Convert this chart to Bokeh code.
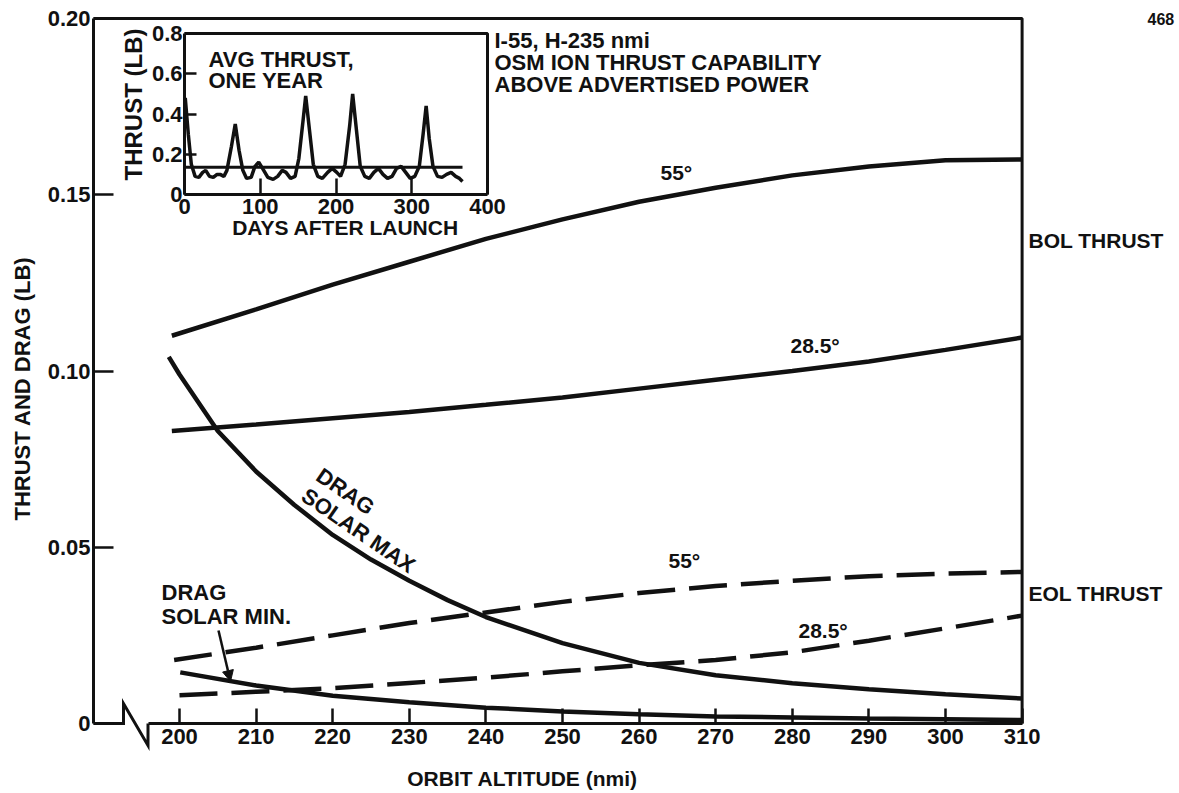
import math
from bokeh.plotting import figure
from bokeh.models import (Range1d, LinearAxis, FixedTicker, CustomJSTickFormatter,
                          Label, Arrow, NormalHead)
from bokeh.embed import file_html
from bokeh.resources import INLINE

# ---------------- data ----------------
x_ticks = [200, 210, 220, 230, 240, 250, 260, 270, 280, 290, 300, 310]
y_ticks = [0, 0.05, 0.10, 0.15, 0.20]

alt_bol55 = [199, 210, 220, 230, 240, 250, 260, 270, 280, 290, 300, 310]
bol_55 = [0.110, 0.1175, 0.1245, 0.131, 0.1375, 0.143, 0.148, 0.152, 0.1555, 0.158, 0.1598, 0.160]

alt_bol285 = [199, 210, 220, 230, 240, 250, 260, 270, 280, 290, 300, 310]
bol_285 = [0.083, 0.0848, 0.0866, 0.0884, 0.0904, 0.0925, 0.095, 0.0975, 0.100, 0.1027, 0.106, 0.1095]

alt_eol55 = [199.3, 210, 220, 230, 240, 250, 260, 270, 280, 290, 300, 310]
eol_55 = [0.018, 0.0215, 0.025, 0.0285, 0.0315, 0.0345, 0.037, 0.039, 0.0405, 0.0418, 0.0425, 0.043]

alt_eol285 = [200, 210, 220, 230, 240, 250, 260, 270, 280, 290, 300, 310]
eol_285 = [0.008, 0.009, 0.010, 0.0115, 0.013, 0.0148, 0.0165, 0.018, 0.0202, 0.0235, 0.027, 0.0306]

alt_dmax = [198.6, 200, 205, 210, 215, 220, 225, 230, 235, 240, 250, 260, 270, 280, 290, 300, 310]
drag_max = [0.104, 0.099, 0.083, 0.0715, 0.062, 0.0535, 0.0465, 0.0405, 0.035, 0.0302, 0.0228,
            0.0172, 0.0137, 0.0114, 0.0097, 0.0083, 0.0071]

alt_dmin = [200.1, 210, 220, 230, 240, 250, 260, 270, 280, 290, 300, 310]
drag_min = [0.0145, 0.0108, 0.0079, 0.006, 0.0045, 0.0034, 0.0026, 0.002, 0.0017, 0.0014, 0.0012, 0.001]

# inset: thrust over one year
inset_x_ticks = [0, 100, 200, 300, 400]
inset_y_ticks = [0, 0.2, 0.4, 0.6, 0.8]
days = [1, 5, 9, 14, 19, 24, 28, 33, 38, 43, 47, 52, 56, 62, 67, 72, 77, 82, 88, 93, 98, 103,
        110, 117, 123, 129, 134, 140, 146, 151, 156, 160, 165, 170, 176, 182, 189, 195, 201,
        206, 212, 218, 222, 227, 232, 238, 244, 250, 256, 262, 268, 274, 280, 286, 292, 298,
        304, 310, 315, 319, 323, 328, 334, 340, 346, 352, 358, 363, 367]
thrust = [0.48, 0.30, 0.15, 0.09, 0.085, 0.11, 0.12, 0.09, 0.085, 0.10, 0.10, 0.09, 0.12, 0.24,
          0.35, 0.22, 0.12, 0.08, 0.085, 0.14, 0.16, 0.13, 0.085, 0.075, 0.09, 0.12, 0.11, 0.08,
          0.09, 0.18, 0.35, 0.49, 0.32, 0.15, 0.09, 0.08, 0.11, 0.13, 0.11, 0.09, 0.15, 0.34,
          0.50, 0.32, 0.14, 0.09, 0.08, 0.11, 0.13, 0.10, 0.08, 0.09, 0.13, 0.14, 0.11, 0.08,
          0.09, 0.14, 0.30, 0.44, 0.28, 0.14, 0.09, 0.085, 0.10, 0.11, 0.09, 0.08, 0.065]
avg_days = [0, 367]
avg_thrust = [0.135, 0.135]

# ---------------- layout calibration (pixel anchors) ----------------
W, H = 1179, 793
def AX(px):  # main x (nmi) from pixel
    return 200 + (px - 179) / 7.66
def AY(py):  # main y (lb) from pixel
    return (723 - py) / 3525.0
def DX(px):  # inset days from pixel
    return (px - 184) / 0.7575
def TY(py):  # inset thrust from pixel
    return (194 - py) / 201.25

FONT = "Liberation Sans"
INK = "#111111"

p = figure(width=W, height=H, min_border=0, x_axis_type=None, y_axis_type=None,
           x_range=Range1d(AX(0), AX(W)), y_range=Range1d(AY(H), AY(0)),
           outline_line_color=None, toolbar_location=None, output_backend="svg",
           background_fill_color="white", border_fill_color="white")
p.extra_x_ranges = {"days": Range1d(DX(0), DX(W))}
p.extra_y_ranges = {"thrust": Range1d(TY(H), TY(0))}
p.grid.visible = False

X_LEFT = AX(93)
BREAK_L = AX(123)
BREAK_R = AX(147.5)
X_END = x_ticks[-1]
Y_TOP = y_ticks[-1]

def style_axis(ax, size, tick_in, standoff):
    ax.major_tick_in = tick_in
    ax.major_tick_out = 0
    ax.minor_tick_in = 0
    ax.minor_tick_out = 0
    ax.major_label_standoff = standoff
    ax.axis_line_width = 3
    ax.axis_line_color = INK
    ax.major_tick_line_width = 2.5
    ax.major_tick_line_color = INK
    ax.major_label_text_font = FONT
    ax.major_label_text_font_size = size
    ax.major_label_text_font_style = "bold"
    ax.major_label_text_color = INK

# main axes
yax = LinearAxis(fixed_location=X_LEFT, bounds=(0, Y_TOP), ticker=FixedTicker(ticks=y_ticks),
                 formatter=CustomJSTickFormatter(code="return tick == 0 ? '0' : tick.toFixed(2)"))
style_axis(yax, "22px", 20, 3)
p.add_layout(yax, "left")

xax = LinearAxis(fixed_location=0, bounds=(BREAK_R, X_END), ticker=FixedTicker(ticks=x_ticks))
style_axis(xax, "22px", 15, 5)
p.add_layout(xax, "below")

# frame top/right and axis break
p.line([X_LEFT, X_END, X_END], [Y_TOP, Y_TOP, 0], line_width=3, line_color=INK)
p.line([X_LEFT, BREAK_L, BREAK_L, BREAK_R, BREAK_R], [0, 0, AY(703), AY(745), 0],
       line_width=3, line_color=INK, line_join="miter")

# curves
p.line(alt_bol55, bol_55, line_width=4.5, line_color=INK)
p.line(alt_bol285, bol_285, line_width=4.5, line_color=INK)
p.line(alt_dmax, drag_max, line_width=4.5, line_color=INK)
p.line(alt_dmin, drag_min, line_width=4.5, line_color=INK)
p.line(alt_eol55, eol_55, line_width=4.5, line_color=INK, line_dash="38 14")
p.line(alt_eol285, eol_285, line_width=4.5, line_color=INK, line_dash="38 14")

# inset axes
iyax = LinearAxis(x_range_name="days", y_range_name="thrust", fixed_location=0, bounds=(0, 0.8),
                  ticker=FixedTicker(ticks=inset_y_ticks),
                  formatter=CustomJSTickFormatter(code="return tick == 0 ? '0' : tick.toFixed(1)"))
style_axis(iyax, "22px", 12, 2)
p.add_layout(iyax, "left")
ixax = LinearAxis(x_range_name="days", y_range_name="thrust", fixed_location=0, bounds=(0, 400),
                  ticker=FixedTicker(ticks=inset_x_ticks))
style_axis(ixax, "22px", 16, 4)
p.add_layout(ixax, "below")
p.line([0, 400, 400], [0.8, 0.8, 0], x_range_name="days", y_range_name="thrust",
       line_width=3, line_color=INK)
p.line(days, thrust, x_range_name="days", y_range_name="thrust", line_width=3.5, line_color=INK)
p.line(avg_days, avg_thrust, x_range_name="days", y_range_name="thrust", line_width=3, line_color=INK)

# texts
def lab(px, py, text, size="21px", align="left", angle=0.0):
    p.add_layout(Label(x=AX(px), y=AY(py), text=text, text_font=FONT, text_font_size=size,
                       text_font_style="bold", text_color=INK, text_align=align,
                       text_baseline="middle", angle=angle))

lab(522, 778, "ORBIT ALTITUDE (nmi)", "21px", "center")
lab(22, 388, "THRUST AND DRAG (LB)", "22px", "center", math.pi / 2)
lab(1028, 240, "BOL THRUST")
lab(1028, 593, "EOL THRUST")
lab(1147, 18, "468", "16px")
lab(494, 40, "I-55, H-235 nmi", "22px")
lab(494, 62, "OSM ION THRUST CAPABILITY", "22px")
lab(494, 84, "ABOVE ADVERTISED POWER", "22px")
lab(208, 59, "AVG THRUST,", "22px")
lab(208, 80, "ONE YEAR", "22px")
lab(345, 227, "DAYS AFTER LAUNCH", "21px", "center")
lab(133, 104, "THRUST (LB)", "24px", "center", math.pi / 2)
lab(660, 172, "55°", "21px")
lab(790, 345, "28.5°", "21px")
lab(668, 560, "55°", "21px")
lab(798, 630, "28.5°", "21px")
lab(345, 491, "DRAG", "22px", "center", -0.60)
lab(358, 530, "SOLAR MAX", "22px", "center", -0.60)
lab(161, 592, "DRAG", "22px")
lab(161, 616, "SOLAR MIN.", "22px")

p.add_layout(Arrow(end=NormalHead(size=11, fill_color=INK, line_color=INK, line_width=1),
                   x_start=AX(218), y_start=AY(630), x_end=AX(230), y_end=AY(681),
                   line_width=2.5, line_color=INK))

open("out.html", "w").write(file_html(p, INLINE))
